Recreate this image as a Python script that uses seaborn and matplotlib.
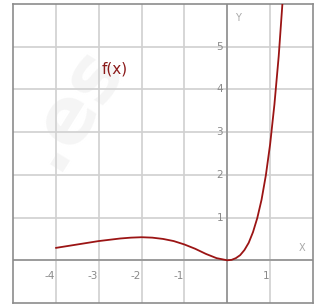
import pandas as pd
import matplotlib
matplotlib.use("Agg")
import matplotlib.pyplot as plt
import seaborn as sns

# ============================================
# Data
# ============================================
x_vals = [-4.0, -3.75, -3.5, -3.25, -3.0, -2.75, -2.5, -2.25, -2.0, -1.75,
          -1.5, -1.25, -1.0, -0.75, -0.5, -0.25, 0.0, 0.1, 0.2, 0.3,
          0.4, 0.5, 0.6, 0.7, 0.8, 0.9, 1.0, 1.1, 1.2, 1.3]
y_vals = [0.29, 0.33, 0.37, 0.41, 0.45, 0.48, 0.51, 0.53, 0.54, 0.53,
          0.50, 0.45, 0.37, 0.27, 0.15, 0.05, 0.0, 0.01, 0.05, 0.12,
          0.24, 0.41, 0.66, 0.99, 1.42, 1.99, 2.72, 3.65, 4.78, 6.2]

x_ticks = [-4, -3, -2, -1, 1]
y_ticks = [1, 2, 3, 4, 5]

df = pd.DataFrame({"x": x_vals, "y": y_vals})

# ============================================
# Plot
# ============================================
sns.set_style("white")
plt.rcParams["font.family"] = ["DejaVu Sans"]

fig = plt.figure(figsize=(3.21, 3.04), dpi=100)
ax = fig.add_axes([13 / 321, 1 / 304, 300 / 321, 299 / 304])
ax.set_xlim(-5, 2)
ax.set_ylim(-1, 6)

# faint watermark
ax.text(-3.65, 3.6, ".es", fontsize=56, fontweight="bold", color="#f5f5f5",
        rotation=58, ha="center", va="center", zorder=0)

# grid
for gx in range(-4, 2):
    ax.axvline(gx, color="#d0d0d0", lw=1.2, zorder=1)
for gy in range(0, 6):
    ax.axhline(gy, color="#d0d0d0", lw=1.2, zorder=1)
ax.axvline(0, color="#8c8c8c", lw=1.1, zorder=2)
ax.axhline(0, color="#8c8c8c", lw=1.1, zorder=2)

sns.lineplot(data=df, x="x", y="y", color="#9b1414", lw=1.3, ax=ax, zorder=3)

# tick labels as text
for t in x_ticks:
    ax.text(t - 0.02, -0.37, str(t), fontsize=7.5, color="#8a8a8a",
            ha="right", va="center")
for t in y_ticks:
    ax.text(-0.1, t, str(t), fontsize=7.5, color="#8a8a8a",
            ha="right", va="center")
ax.text(1.74, 0.28, "X", fontsize=7, color="#a8a8a8", ha="center", va="center")
ax.text(0.26, 5.68, "Y", fontsize=7, color="#a8a8a8", ha="center", va="center")

ax.text(-2.93, 4.47, "f(x)", fontsize=11, color="#8b1a1a", ha="left", va="center")

ax.set_xticks([])
ax.set_yticks([])
ax.set_xlabel("")
ax.set_ylabel("")
for s in ax.spines.values():
    s.set_color("#8c8c8c")
    s.set_linewidth(1.2)

plt.savefig("out.png", dpi=100)
